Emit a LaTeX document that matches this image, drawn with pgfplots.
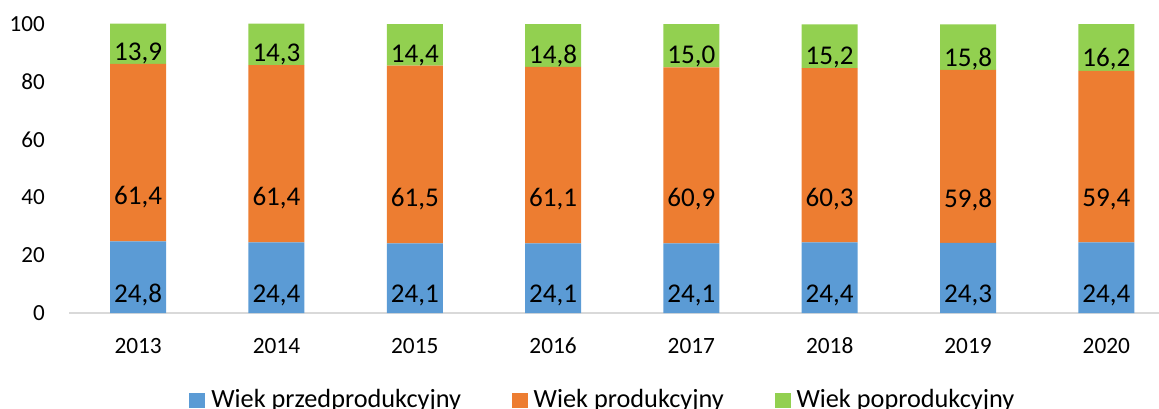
\documentclass[border=0pt]{standalone}
\usepackage{pgfplots}
\pgfplotsset{compat=1.18}
\usepackage{fontspec}
\setmainfont{Carlito}
\definecolor{cblue}{HTML}{5B9BD5}
\definecolor{corange}{HTML}{ED7D31}
\definecolor{cgreen}{HTML}{92D050}
\begin{document}
\begin{tikzpicture}
\useasboundingbox (0,0) rectangle (869.25pt,-306.75pt);
\begin{axis}[
  at={(51.75pt,-234.75pt)}, anchor=south west,
  scale only axis, width=817.5pt, height=217.18pt,
  ybar stacked, bar width=42pt,
  xmin=-0.5, xmax=7.381, ymin=0, ymax=100.2,
  xtick={0,...,7},
  xticklabels={2013,2014,2015,2016,2017,2018,2019,2020},
  ytick={0,20,40,60,80,100},
  axis x line*=bottom, axis y line*=left,
  y axis line style={draw=none},
  x axis line style={draw=black!15, line width=1.2pt},
  major tick length=0pt,
  tick style={draw=none},
  /pgf/number format/assume math mode=true,
  /pgf/number format/.cd, fixed, fixed zerofill, precision=1, use comma, /pgfplots/.cd,
  yticklabel style={font=\fontsize{17.3}{20}\selectfont, inner sep=0pt, xshift=-18pt, /pgf/number format/precision=0, /pgf/number format/fixed zerofill=false},
  xticklabel style={font=\fontsize{17.5}{20}\selectfont, inner sep=0pt, anchor=north, yshift=-18.5pt},
  nodes near coords,
  visualization depends on=rawy \as \rawy,
  every node near coord/.append style={anchor=center, font=\fontsize{20.3}{23}\selectfont, text=black, yshift={-0.541875pt*\rawy}},
  legend columns=3,
  legend style={at={(0.1101,-0.2985)}, anchor=west, draw=none, fill=none, inner sep=0pt,
    font=\fontsize{19.7}{23}\selectfont,
    nodes={inner sep=0pt},
    /tikz/every odd column/.append style={column sep=4.5pt},
    /tikz/every even column/.append style={column sep=38pt}},
  legend image code/.code={\fill[#1] (0pt,-6.2pt) rectangle (12pt,5.05pt);},
]
\addplot[fill=cblue, draw=none] coordinates {(0,24.8) (1,24.4) (2,24.1) (3,24.1) (4,24.1) (5,24.4) (6,24.3) (7,24.4)};
\addplot[fill=corange, draw=none] coordinates {(0,61.4) (1,61.4) (2,61.5) (3,61.1) (4,60.9) (5,60.3) (6,59.8) (7,59.4)};
\addplot[fill=cgreen, draw=none] coordinates {(0,13.9) (1,14.3) (2,14.4) (3,14.8) (4,15.0) (5,15.2) (6,15.8) (7,16.2)};
\legend{Wiek przedprodukcyjny, Wiek produkcyjny, Wiek poprodukcyjny}
\end{axis}
\end{tikzpicture}
\end{document}
